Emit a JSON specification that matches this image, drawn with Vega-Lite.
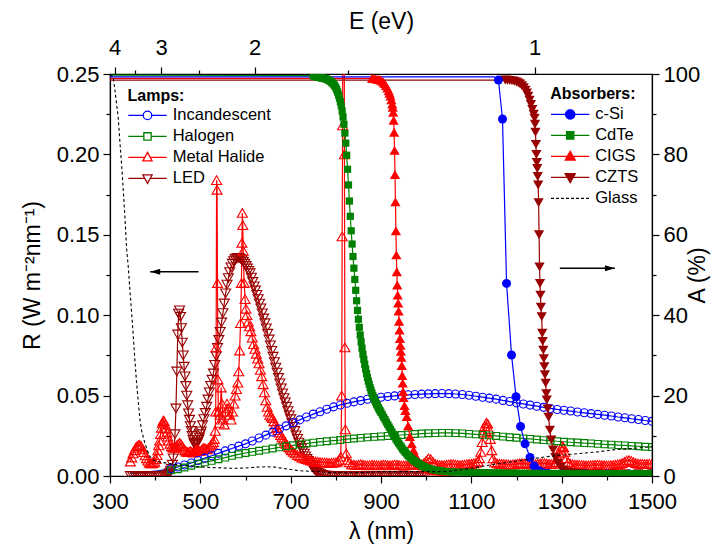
{
  "$schema": "https://vega.github.io/schema/vega-lite/v6.json",
  "width": 542,
  "height": 402,
  "autosize": {"type": "none"},
  "padding": {"left": 110, "top": 74, "right": 75, "bottom": 69},
  "background": "white",
  "config": {
    "view": {"stroke": "black", "strokeWidth": 1.2},
    "font": "Liberation Sans",
    "axis": {"labelFont": "Liberation Sans", "titleFont": "Liberation Sans", "labelFontSize": 22, "titleFontSize": 23, "titleFontWeight": "normal", "labelColor": "black", "titleColor": "black", "domainColor": "black", "tickColor": "black", "grid": false, "domainWidth": 1.2, "tickWidth": 1.2, "labelFlush": false, "labelOverlap": false},
    "legend": {"labelFont": "Liberation Sans", "titleFont": "Liberation Sans"}
  },
  "datasets": {
    "lamps": [
      {"s":"LED","x":345,"y":0},{"s":"LED","x":350,"y":0},{"s":"LED","x":355,"y":0},{"s":"LED","x":360,"y":0},{"s":"LED","x":365,"y":0},{"s":"LED","x":370,"y":0},{"s":"LED","x":375,"y":0},{"s":"LED","x":380,"y":0},{"s":"LED","x":385,"y":0},{"s":"LED","x":390,"y":0},{"s":"LED","x":395,"y":0},{"s":"LED","x":400,"y":0},{"s":"LED","x":405,"y":0},{"s":"LED","x":410,"y":0},{"s":"LED","x":415,"y":0},{"s":"LED","x":420,"y":0},{"s":"LED","x":425,"y":0},
      {"s":"LED","x":428,"y":0.0005},{"s":"LED","x":430,"y":0.001},{"s":"LED","x":432,"y":0.0018},{"s":"LED","x":434,"y":0.003},{"s":"LED","x":436,"y":0.0045},{"s":"LED","x":438,"y":0.007},{"s":"LED","x":440,"y":0.011},{"s":"LED","x":442,"y":0.017},{"s":"LED","x":444,"y":0.026},{"s":"LED","x":446,"y":0.042},{"s":"LED","x":448,"y":0.065},{"s":"LED","x":450,"y":0.088},{"s":"LED","x":452,"y":0.101},{"s":"LED","x":454,"y":0.103},{"s":"LED","x":456,"y":0.099},{"s":"LED","x":458,"y":0.092},{"s":"LED","x":460,"y":0.083},{"s":"LED","x":462,"y":0.075},{"s":"LED","x":464,"y":0.068},{"s":"LED","x":466,"y":0.062},{"s":"LED","x":468,"y":0.056},{"s":"LED","x":470,"y":0.05},{"s":"LED","x":472,"y":0.044},{"s":"LED","x":474,"y":0.039},{"s":"LED","x":476,"y":0.035},{"s":"LED","x":478,"y":0.031},{"s":"LED","x":480,"y":0.028},{"s":"LED","x":482,"y":0.025},{"s":"LED","x":484,"y":0.0225},{"s":"LED","x":486,"y":0.0205},{"s":"LED","x":488,"y":0.0195},{"s":"LED","x":490,"y":0.0195},{"s":"LED","x":492,"y":0.02},{"s":"LED","x":494,"y":0.021},{"s":"LED","x":496,"y":0.0225},{"s":"LED","x":498,"y":0.024},{"s":"LED","x":500,"y":0.026},
      {"s":"LED","x":502,"y":0.0278},{"s":"LED","x":505,"y":0.0316},{"s":"LED","x":508,"y":0.0354},{"s":"LED","x":511,"y":0.0392},{"s":"LED","x":514,"y":0.0431},{"s":"LED","x":517,"y":0.0476},{"s":"LED","x":520,"y":0.052},{"s":"LED","x":523,"y":0.0561},{"s":"LED","x":526,"y":0.0599},{"s":"LED","x":529,"y":0.0638},{"s":"LED","x":532,"y":0.0691},{"s":"LED","x":535,"y":0.0745},{"s":"LED","x":538,"y":0.0796},{"s":"LED","x":541,"y":0.0846},{"s":"LED","x":544,"y":0.0897},{"s":"LED","x":547,"y":0.0955},{"s":"LED","x":550,"y":0.1013},{"s":"LED","x":553,"y":0.1073},{"s":"LED","x":556,"y":0.1136},{"s":"LED","x":559,"y":0.119},{"s":"LED","x":562,"y":0.1231},{"s":"LED","x":565,"y":0.1268},{"s":"LED","x":568,"y":0.1298},{"s":"LED","x":571,"y":0.132},{"s":"LED","x":574,"y":0.1337},{"s":"LED","x":577,"y":0.1348},{"s":"LED","x":580,"y":0.1354},{"s":"LED","x":583,"y":0.1356},{"s":"LED","x":586,"y":0.1355},{"s":"LED","x":589,"y":0.1351},{"s":"LED","x":592,"y":0.1343},{"s":"LED","x":595,"y":0.1333},{"s":"LED","x":598,"y":0.132},{"s":"LED","x":601,"y":0.1306},{"s":"LED","x":604,"y":0.1291},{"s":"LED","x":607,"y":0.1276},{"s":"LED","x":610,"y":0.1261},{"s":"LED","x":613,"y":0.1234},{"s":"LED","x":616,"y":0.1207},{"s":"LED","x":619,"y":0.118},{"s":"LED","x":622,"y":0.1154},{"s":"LED","x":625,"y":0.1127},{"s":"LED","x":628,"y":0.11},{"s":"LED","x":631,"y":0.1072},{"s":"LED","x":634,"y":0.1043},{"s":"LED","x":637,"y":0.1012},{"s":"LED","x":640,"y":0.098},{"s":"LED","x":643,"y":0.095},{"s":"LED","x":646,"y":0.0918},{"s":"LED","x":649,"y":0.0885},{"s":"LED","x":652,"y":0.0849},{"s":"LED","x":655,"y":0.0813},{"s":"LED","x":658,"y":0.0778},{"s":"LED","x":661,"y":0.0742},{"s":"LED","x":664,"y":0.0708},{"s":"LED","x":667,"y":0.0674},{"s":"LED","x":670,"y":0.0643},{"s":"LED","x":673,"y":0.061},{"s":"LED","x":676,"y":0.0576},{"s":"LED","x":679,"y":0.0545},{"s":"LED","x":682,"y":0.0514},{"s":"LED","x":685,"y":0.0485},{"s":"LED","x":688,"y":0.0458},{"s":"LED","x":691,"y":0.0431},{"s":"LED","x":694,"y":0.0404},{"s":"LED","x":697,"y":0.0377},{"s":"LED","x":700,"y":0.0353},{"s":"LED","x":703,"y":0.0329},{"s":"LED","x":706,"y":0.0306},{"s":"LED","x":709,"y":0.028},{"s":"LED","x":712,"y":0.0253},{"s":"LED","x":715,"y":0.0231},{"s":"LED","x":718,"y":0.0208},{"s":"LED","x":721,"y":0.0188},{"s":"LED","x":724,"y":0.0172},{"s":"LED","x":727,"y":0.0156},{"s":"LED","x":730,"y":0.0139},{"s":"LED","x":733,"y":0.0122},{"s":"LED","x":736,"y":0.0106},{"s":"LED","x":739,"y":0.0094},{"s":"LED","x":742,"y":0.0082},{"s":"LED","x":745,"y":0.007},{"s":"LED","x":748,"y":0.0057},{"s":"LED","x":751,"y":0.0045},{"s":"LED","x":754,"y":0.0036},{"s":"LED","x":757,"y":0.0027},{"s":"LED","x":760,"y":0.0021},{"s":"LED","x":763,"y":0.0016},{"s":"LED","x":766,"y":0.0011},{"s":"LED","x":770,"y":0.0007},{"s":"LED","x":775,"y":0.0004},{"s":"LED","x":780,"y":0.0002},{"s":"LED","x":785,"y":0.0001},
      {"s":"LED","x":790,"y":0},{"s":"LED","x":795,"y":0},{"s":"LED","x":800,"y":0},{"s":"LED","x":805,"y":0},{"s":"LED","x":810,"y":0},{"s":"LED","x":815,"y":0},{"s":"LED","x":820,"y":0},{"s":"LED","x":825,"y":0},{"s":"LED","x":830,"y":0},{"s":"LED","x":835,"y":0},{"s":"LED","x":840,"y":0},{"s":"LED","x":845,"y":0},{"s":"LED","x":850,"y":0},{"s":"LED","x":855,"y":0},{"s":"LED","x":860,"y":0},{"s":"LED","x":865,"y":0},{"s":"LED","x":870,"y":0},{"s":"LED","x":875,"y":0},{"s":"LED","x":880,"y":0},{"s":"LED","x":885,"y":0},{"s":"LED","x":890,"y":0},{"s":"LED","x":895,"y":0},{"s":"LED","x":900,"y":0},{"s":"LED","x":905,"y":0},{"s":"LED","x":910,"y":0},{"s":"LED","x":915,"y":0},{"s":"LED","x":920,"y":0},{"s":"LED","x":925,"y":0},{"s":"LED","x":930,"y":0},{"s":"LED","x":935,"y":0},{"s":"LED","x":940,"y":0},{"s":"LED","x":945,"y":0},{"s":"LED","x":950,"y":0},{"s":"LED","x":955,"y":0},{"s":"LED","x":960,"y":0},{"s":"LED","x":965,"y":0},{"s":"LED","x":970,"y":0},{"s":"LED","x":975,"y":0},{"s":"LED","x":980,"y":0},{"s":"LED","x":985,"y":0},{"s":"LED","x":990,"y":0},{"s":"LED","x":995,"y":0},{"s":"LED","x":1000,"y":0},

      {"s":"Metal Halide","x":345,"y":0.009},{"s":"Metal Halide","x":348,"y":0.0115},{"s":"Metal Halide","x":351,"y":0.014},{"s":"Metal Halide","x":354,"y":0.016},{"s":"Metal Halide","x":357,"y":0.0176},{"s":"Metal Halide","x":360,"y":0.0186},{"s":"Metal Halide","x":363,"y":0.0192},{"s":"Metal Halide","x":366,"y":0.0193},{"s":"Metal Halide","x":369,"y":0.0185},{"s":"Metal Halide","x":372,"y":0.0168},{"s":"Metal Halide","x":375,"y":0.0148},{"s":"Metal Halide","x":378,"y":0.0128},{"s":"Metal Halide","x":381,"y":0.011},{"s":"Metal Halide","x":384,"y":0.0095},{"s":"Metal Halide","x":387,"y":0.0082},{"s":"Metal Halide","x":390,"y":0.0078},{"s":"Metal Halide","x":393,"y":0.0078},{"s":"Metal Halide","x":396,"y":0.0082},{"s":"Metal Halide","x":399,"y":0.0088},{"s":"Metal Halide","x":402,"y":0.0105},{"s":"Metal Halide","x":404,"y":0.013},{"s":"Metal Halide","x":406,"y":0.016},{"s":"Metal Halide","x":408,"y":0.019},{"s":"Metal Halide","x":410,"y":0.022},{"s":"Metal Halide","x":412,"y":0.026},{"s":"Metal Halide","x":414,"y":0.03},{"s":"Metal Halide","x":416,"y":0.033},{"s":"Metal Halide","x":418,"y":0.0345},{"s":"Metal Halide","x":420,"y":0.034},{"s":"Metal Halide","x":422,"y":0.032},{"s":"Metal Halide","x":424,"y":0.0295},{"s":"Metal Halide","x":426,"y":0.027},{"s":"Metal Halide","x":428,"y":0.0245},{"s":"Metal Halide","x":430,"y":0.022},{"s":"Metal Halide","x":433,"y":0.02},{"s":"Metal Halide","x":436,"y":0.0185},{"s":"Metal Halide","x":439,"y":0.0178},{"s":"Metal Halide","x":442,"y":0.0175},{"s":"Metal Halide","x":445,"y":0.018},{"s":"Metal Halide","x":448,"y":0.019},{"s":"Metal Halide","x":451,"y":0.02},{"s":"Metal Halide","x":454,"y":0.0205},{"s":"Metal Halide","x":457,"y":0.02},{"s":"Metal Halide","x":460,"y":0.0185},{"s":"Metal Halide","x":463,"y":0.017},{"s":"Metal Halide","x":466,"y":0.016},{"s":"Metal Halide","x":469,"y":0.0152},{"s":"Metal Halide","x":472,"y":0.0148},{"s":"Metal Halide","x":475,"y":0.015},{"s":"Metal Halide","x":478,"y":0.0155},{"s":"Metal Halide","x":481,"y":0.015},{"s":"Metal Halide","x":484,"y":0.0145},{"s":"Metal Halide","x":487,"y":0.015},{"s":"Metal Halide","x":490,"y":0.016},{"s":"Metal Halide","x":493,"y":0.0165},{"s":"Metal Halide","x":496,"y":0.016},{"s":"Metal Halide","x":499,"y":0.0155},{"s":"Metal Halide","x":502,"y":0.016},{"s":"Metal Halide","x":505,"y":0.017},{"s":"Metal Halide","x":508,"y":0.0175},{"s":"Metal Halide","x":511,"y":0.017},{"s":"Metal Halide","x":514,"y":0.0165},{"s":"Metal Halide","x":517,"y":0.017},{"s":"Metal Halide","x":520,"y":0.018},{"s":"Metal Halide","x":523,"y":0.019},{"s":"Metal Halide","x":526,"y":0.02},{"s":"Metal Halide","x":529,"y":0.021},{"s":"Metal Halide","x":531,"y":0.023},{"s":"Metal Halide","x":533,"y":0.028},{"s":"Metal Halide","x":534,"y":0.04},{"s":"Metal Halide","x":535,"y":0.08},{"s":"Metal Halide","x":536,"y":0.184},{"s":"Metal Halide","x":537,"y":0.178},{"s":"Metal Halide","x":538,"y":0.12},{"s":"Metal Halide","x":539,"y":0.06},{"s":"Metal Halide","x":540,"y":0.04},{"s":"Metal Halide","x":542,"y":0.033},{"s":"Metal Halide","x":544,"y":0.038},{"s":"Metal Halide","x":546,"y":0.055},{"s":"Metal Halide","x":548,"y":0.045},{"s":"Metal Halide","x":550,"y":0.035},{"s":"Metal Halide","x":553,"y":0.032},{"s":"Metal Halide","x":556,"y":0.04},{"s":"Metal Halide","x":559,"y":0.045},{"s":"Metal Halide","x":562,"y":0.042},{"s":"Metal Halide","x":565,"y":0.038},{"s":"Metal Halide","x":568,"y":0.035},{"s":"Metal Halide","x":571,"y":0.04},{"s":"Metal Halide","x":574,"y":0.045},{"s":"Metal Halide","x":577,"y":0.05},{"s":"Metal Halide","x":580,"y":0.054},{"s":"Metal Halide","x":583,"y":0.058},{"s":"Metal Halide","x":585,"y":0.065},{"s":"Metal Halide","x":587,"y":0.078},{"s":"Metal Halide","x":589,"y":0.095},{"s":"Metal Halide","x":591,"y":0.12},{"s":"Metal Halide","x":592,"y":0.145},{"s":"Metal Halide","x":593,"y":0.1636},{"s":"Metal Halide","x":594,"y":0.156},{"s":"Metal Halide","x":595,"y":0.14},{"s":"Metal Halide","x":597,"y":0.12},{"s":"Metal Halide","x":599,"y":0.11},{"s":"Metal Halide","x":601,"y":0.104},{"s":"Metal Halide","x":603,"y":0.1},{"s":"Metal Halide","x":606,"y":0.096},{"s":"Metal Halide","x":609,"y":0.093},{"s":"Metal Halide","x":612,"y":0.09},{"s":"Metal Halide","x":615,"y":0.086},{"s":"Metal Halide","x":618,"y":0.082},{"s":"Metal Halide","x":621,"y":0.079},{"s":"Metal Halide","x":624,"y":0.076},{"s":"Metal Halide","x":627,"y":0.073},{"s":"Metal Halide","x":630,"y":0.07},{"s":"Metal Halide","x":633,"y":0.066},{"s":"Metal Halide","x":636,"y":0.062},{"s":"Metal Halide","x":639,"y":0.057},{"s":"Metal Halide","x":642,"y":0.052},{"s":"Metal Halide","x":645,"y":0.047},{"s":"Metal Halide","x":648,"y":0.043},{"s":"Metal Halide","x":651,"y":0.04},{"s":"Metal Halide","x":654,"y":0.038},{"s":"Metal Halide","x":657,"y":0.037},{"s":"Metal Halide","x":660,"y":0.036},{"s":"Metal Halide","x":663,"y":0.034},{"s":"Metal Halide","x":666,"y":0.032},{"s":"Metal Halide","x":669,"y":0.03},{"s":"Metal Halide","x":672,"y":0.0285},{"s":"Metal Halide","x":675,"y":0.027},{"s":"Metal Halide","x":678,"y":0.0255},{"s":"Metal Halide","x":681,"y":0.024},{"s":"Metal Halide","x":684,"y":0.023},{"s":"Metal Halide","x":687,"y":0.0215},{"s":"Metal Halide","x":690,"y":0.02},{"s":"Metal Halide","x":693,"y":0.019},{"s":"Metal Halide","x":696,"y":0.018},{"s":"Metal Halide","x":699,"y":0.017},{"s":"Metal Halide","x":702,"y":0.016},{"s":"Metal Halide","x":706,"y":0.015},{"s":"Metal Halide","x":710,"y":0.014},{"s":"Metal Halide","x":715,"y":0.013},{"s":"Metal Halide","x":720,"y":0.0122},{"s":"Metal Halide","x":725,"y":0.0115},{"s":"Metal Halide","x":730,"y":0.011},{"s":"Metal Halide","x":735,"y":0.0105},{"s":"Metal Halide","x":740,"y":0.01},{"s":"Metal Halide","x":745,"y":0.0095},{"s":"Metal Halide","x":750,"y":0.0092},{"s":"Metal Halide","x":755,"y":0.009},{"s":"Metal Halide","x":760,"y":0.0088},{"s":"Metal Halide","x":765,"y":0.0086},{"s":"Metal Halide","x":770,"y":0.0085},{"s":"Metal Halide","x":775,"y":0.0084},{"s":"Metal Halide","x":780,"y":0.0083},{"s":"Metal Halide","x":785,"y":0.0082},{"s":"Metal Halide","x":790,"y":0.0082},{"s":"Metal Halide","x":795,"y":0.0083},{"s":"Metal Halide","x":800,"y":0.0085},{"s":"Metal Halide","x":804,"y":0.009},{"s":"Metal Halide","x":808,"y":0.01},{"s":"Metal Halide","x":811,"y":0.012},{"s":"Metal Halide","x":813,"y":0.05},{"s":"Metal Halide","x":814,"y":0.149},{"s":"Metal Halide","x":815,"y":0.218},{"s":"Metal Halide","x":816,"y":0.4},{"s":"Metal Halide","x":817,"y":0.45},{"s":"Metal Halide","x":818,"y":0.4},{"s":"Metal Halide","x":819,"y":0.2},{"s":"Metal Halide","x":820,"y":0.08},{"s":"Metal Halide","x":821,"y":0.029},{"s":"Metal Halide","x":823,"y":0.014},{"s":"Metal Halide","x":826,"y":0.01},{"s":"Metal Halide","x":830,"y":0.0085},
      {"s":"Metal Halide","x":835,"y":0.0072},{"s":"Metal Halide","x":840,"y":0.007},{"s":"Metal Halide","x":845,"y":0.0068},{"s":"Metal Halide","x":850,"y":0.007},{"s":"Metal Halide","x":855,"y":0.0073},{"s":"Metal Halide","x":860,"y":0.007},{"s":"Metal Halide","x":865,"y":0.0067},{"s":"Metal Halide","x":870,"y":0.0066},{"s":"Metal Halide","x":875,"y":0.0068},{"s":"Metal Halide","x":880,"y":0.007},{"s":"Metal Halide","x":885,"y":0.0069},{"s":"Metal Halide","x":890,"y":0.0067},{"s":"Metal Halide","x":895,"y":0.0066},{"s":"Metal Halide","x":900,"y":0.0068},{"s":"Metal Halide","x":905,"y":0.007},{"s":"Metal Halide","x":910,"y":0.0069},{"s":"Metal Halide","x":915,"y":0.0067},{"s":"Metal Halide","x":920,"y":0.0066},{"s":"Metal Halide","x":925,"y":0.0068},{"s":"Metal Halide","x":930,"y":0.0071},{"s":"Metal Halide","x":935,"y":0.007},{"s":"Metal Halide","x":940,"y":0.0068},{"s":"Metal Halide","x":945,"y":0.0066},{"s":"Metal Halide","x":950,"y":0.0065},{"s":"Metal Halide","x":955,"y":0.0066},{"s":"Metal Halide","x":960,"y":0.0068},{"s":"Metal Halide","x":965,"y":0.007},{"s":"Metal Halide","x":970,"y":0.0069},{"s":"Metal Halide","x":975,"y":0.0068},{"s":"Metal Halide","x":980,"y":0.0067},{"s":"Metal Halide","x":985,"y":0.0068},{"s":"Metal Halide","x":990,"y":0.0072},{"s":"Metal Halide","x":995,"y":0.008},{"s":"Metal Halide","x":1000,"y":0.0095},{"s":"Metal Halide","x":1005,"y":0.011},{"s":"Metal Halide","x":1010,"y":0.0105},{"s":"Metal Halide","x":1015,"y":0.0088},{"s":"Metal Halide","x":1020,"y":0.0075},{"s":"Metal Halide","x":1025,"y":0.007},{"s":"Metal Halide","x":1030,"y":0.0068},{"s":"Metal Halide","x":1035,"y":0.0067},{"s":"Metal Halide","x":1040,"y":0.0068},{"s":"Metal Halide","x":1045,"y":0.007},{"s":"Metal Halide","x":1050,"y":0.0072},{"s":"Metal Halide","x":1055,"y":0.0074},{"s":"Metal Halide","x":1060,"y":0.0073},{"s":"Metal Halide","x":1065,"y":0.0071},{"s":"Metal Halide","x":1070,"y":0.0069},{"s":"Metal Halide","x":1075,"y":0.0068},{"s":"Metal Halide","x":1080,"y":0.0069},{"s":"Metal Halide","x":1085,"y":0.0071},{"s":"Metal Halide","x":1090,"y":0.0073},{"s":"Metal Halide","x":1095,"y":0.0075},{"s":"Metal Halide","x":1100,"y":0.0076},{"s":"Metal Halide","x":1105,"y":0.0078},{"s":"Metal Halide","x":1110,"y":0.0082},{"s":"Metal Halide","x":1115,"y":0.009},{"s":"Metal Halide","x":1118,"y":0.011},{"s":"Metal Halide","x":1121,"y":0.015},{"s":"Metal Halide","x":1124,"y":0.021},{"s":"Metal Halide","x":1127,"y":0.027},{"s":"Metal Halide","x":1130,"y":0.031},{"s":"Metal Halide","x":1133,"y":0.033},{"s":"Metal Halide","x":1136,"y":0.0325},{"s":"Metal Halide","x":1139,"y":0.029},{"s":"Metal Halide","x":1142,"y":0.023},{"s":"Metal Halide","x":1145,"y":0.016},{"s":"Metal Halide","x":1148,"y":0.011},{"s":"Metal Halide","x":1152,"y":0.0085},{"s":"Metal Halide","x":1157,"y":0.0078},{"s":"Metal Halide","x":1162,"y":0.0076},{"s":"Metal Halide","x":1167,"y":0.0075},{"s":"Metal Halide","x":1172,"y":0.0074},{"s":"Metal Halide","x":1177,"y":0.0073},{"s":"Metal Halide","x":1182,"y":0.0072},{"s":"Metal Halide","x":1187,"y":0.0071},{"s":"Metal Halide","x":1192,"y":0.0072},{"s":"Metal Halide","x":1197,"y":0.0074},{"s":"Metal Halide","x":1202,"y":0.0076},{"s":"Metal Halide","x":1207,"y":0.0078},{"s":"Metal Halide","x":1212,"y":0.0079},{"s":"Metal Halide","x":1217,"y":0.0078},{"s":"Metal Halide","x":1222,"y":0.0076},{"s":"Metal Halide","x":1227,"y":0.0074},{"s":"Metal Halide","x":1232,"y":0.0073},{"s":"Metal Halide","x":1237,"y":0.0072},{"s":"Metal Halide","x":1242,"y":0.0073},{"s":"Metal Halide","x":1247,"y":0.0075},{"s":"Metal Halide","x":1252,"y":0.0078},{"s":"Metal Halide","x":1257,"y":0.008},{"s":"Metal Halide","x":1262,"y":0.0079},{"s":"Metal Halide","x":1267,"y":0.0077},{"s":"Metal Halide","x":1272,"y":0.0075},{"s":"Metal Halide","x":1277,"y":0.0074},{"s":"Metal Halide","x":1282,"y":0.0076},{"s":"Metal Halide","x":1287,"y":0.0085},{"s":"Metal Halide","x":1292,"y":0.011},{"s":"Metal Halide","x":1295,"y":0.014},{"s":"Metal Halide","x":1298,"y":0.017},{"s":"Metal Halide","x":1301,"y":0.0187},{"s":"Metal Halide","x":1304,"y":0.018},{"s":"Metal Halide","x":1307,"y":0.015},{"s":"Metal Halide","x":1310,"y":0.011},{"s":"Metal Halide","x":1314,"y":0.0085},{"s":"Metal Halide","x":1319,"y":0.0076},{"s":"Metal Halide","x":1324,"y":0.0073},{"s":"Metal Halide","x":1329,"y":0.0071},{"s":"Metal Halide","x":1334,"y":0.007},{"s":"Metal Halide","x":1339,"y":0.0069},{"s":"Metal Halide","x":1344,"y":0.0068},{"s":"Metal Halide","x":1349,"y":0.0067},{"s":"Metal Halide","x":1354,"y":0.0066},{"s":"Metal Halide","x":1359,"y":0.0066},{"s":"Metal Halide","x":1364,"y":0.0067},{"s":"Metal Halide","x":1369,"y":0.0068},{"s":"Metal Halide","x":1374,"y":0.0069},{"s":"Metal Halide","x":1379,"y":0.007},{"s":"Metal Halide","x":1384,"y":0.0069},{"s":"Metal Halide","x":1389,"y":0.0068},{"s":"Metal Halide","x":1394,"y":0.0067},{"s":"Metal Halide","x":1399,"y":0.0066},{"s":"Metal Halide","x":1404,"y":0.0066},{"s":"Metal Halide","x":1409,"y":0.0067},{"s":"Metal Halide","x":1414,"y":0.0068},{"s":"Metal Halide","x":1419,"y":0.007},{"s":"Metal Halide","x":1424,"y":0.0072},{"s":"Metal Halide","x":1429,"y":0.0075},{"s":"Metal Halide","x":1434,"y":0.008},{"s":"Metal Halide","x":1439,"y":0.0088},{"s":"Metal Halide","x":1444,"y":0.0096},{"s":"Metal Halide","x":1449,"y":0.0099},{"s":"Metal Halide","x":1454,"y":0.0094},{"s":"Metal Halide","x":1459,"y":0.0086},{"s":"Metal Halide","x":1464,"y":0.008},{"s":"Metal Halide","x":1469,"y":0.0077},{"s":"Metal Halide","x":1474,"y":0.0076},{"s":"Metal Halide","x":1479,"y":0.0075},{"s":"Metal Halide","x":1484,"y":0.0074},{"s":"Metal Halide","x":1489,"y":0.0075},{"s":"Metal Halide","x":1494,"y":0.0076},{"s":"Metal Halide","x":1500,"y":0.0076},

      {"s":"Incandescent","x":345,"y":0.0015},{"s":"Incandescent","x":360,"y":0.0018},{"s":"Incandescent","x":375,"y":0.0022},{"s":"Incandescent","x":390,"y":0.0027},{"s":"Incandescent","x":405,"y":0.0032},{"s":"Incandescent","x":420,"y":0.0038},{"s":"Incandescent","x":435,"y":0.0045},{"s":"Incandescent","x":450,"y":0.0056},{"s":"Incandescent","x":465,"y":0.0068},{"s":"Incandescent","x":480,"y":0.0081},{"s":"Incandescent","x":495,"y":0.0096},{"s":"Incandescent","x":510,"y":0.0111},{"s":"Incandescent","x":525,"y":0.0126},{"s":"Incandescent","x":540,"y":0.0141},{"s":"Incandescent","x":555,"y":0.0156},{"s":"Incandescent","x":570,"y":0.0171},{"s":"Incandescent","x":585,"y":0.0186},{"s":"Incandescent","x":600,"y":0.02},{"s":"Incandescent","x":615,"y":0.0218},{"s":"Incandescent","x":630,"y":0.0236},{"s":"Incandescent","x":645,"y":0.0254},{"s":"Incandescent","x":660,"y":0.0273},{"s":"Incandescent","x":675,"y":0.0292},{"s":"Incandescent","x":690,"y":0.0312},{"s":"Incandescent","x":705,"y":0.0331},{"s":"Incandescent","x":720,"y":0.0349},{"s":"Incandescent","x":735,"y":0.0367},{"s":"Incandescent","x":750,"y":0.0385},{"s":"Incandescent","x":765,"y":0.04},{"s":"Incandescent","x":780,"y":0.0415},{"s":"Incandescent","x":795,"y":0.043},{"s":"Incandescent","x":810,"y":0.0442},{"s":"Incandescent","x":825,"y":0.0452},{"s":"Incandescent","x":840,"y":0.0461},{"s":"Incandescent","x":855,"y":0.0469},{"s":"Incandescent","x":870,"y":0.0477},{"s":"Incandescent","x":885,"y":0.0484},{"s":"Incandescent","x":900,"y":0.049},{"s":"Incandescent","x":915,"y":0.0494},{"s":"Incandescent","x":930,"y":0.0498},{"s":"Incandescent","x":945,"y":0.0502},{"s":"Incandescent","x":960,"y":0.0505},{"s":"Incandescent","x":975,"y":0.0507},{"s":"Incandescent","x":990,"y":0.0509},{"s":"Incandescent","x":1005,"y":0.0511},{"s":"Incandescent","x":1020,"y":0.0512},{"s":"Incandescent","x":1035,"y":0.0513},{"s":"Incandescent","x":1050,"y":0.0512},{"s":"Incandescent","x":1065,"y":0.051},{"s":"Incandescent","x":1080,"y":0.0507},{"s":"Incandescent","x":1095,"y":0.0502},{"s":"Incandescent","x":1110,"y":0.0496},{"s":"Incandescent","x":1125,"y":0.049},{"s":"Incandescent","x":1140,"y":0.0484},{"s":"Incandescent","x":1155,"y":0.0478},{"s":"Incandescent","x":1170,"y":0.047},{"s":"Incandescent","x":1185,"y":0.0463},{"s":"Incandescent","x":1200,"y":0.0455},{"s":"Incandescent","x":1215,"y":0.0448},{"s":"Incandescent","x":1230,"y":0.0441},{"s":"Incandescent","x":1245,"y":0.0434},{"s":"Incandescent","x":1260,"y":0.0427},{"s":"Incandescent","x":1275,"y":0.042},{"s":"Incandescent","x":1290,"y":0.0414},{"s":"Incandescent","x":1305,"y":0.0409},{"s":"Incandescent","x":1320,"y":0.0404},{"s":"Incandescent","x":1335,"y":0.0398},{"s":"Incandescent","x":1350,"y":0.0393},{"s":"Incandescent","x":1365,"y":0.0388},{"s":"Incandescent","x":1380,"y":0.0383},{"s":"Incandescent","x":1395,"y":0.0378},{"s":"Incandescent","x":1410,"y":0.0373},{"s":"Incandescent","x":1425,"y":0.0367},{"s":"Incandescent","x":1440,"y":0.0362},{"s":"Incandescent","x":1455,"y":0.0356},{"s":"Incandescent","x":1470,"y":0.0351},{"s":"Incandescent","x":1485,"y":0.0345},{"s":"Incandescent","x":1500,"y":0.034},

      {"s":"Halogen","x":345,"y":0.002},{"s":"Halogen","x":360,"y":0.0022},{"s":"Halogen","x":375,"y":0.0024},{"s":"Halogen","x":390,"y":0.0026},{"s":"Halogen","x":405,"y":0.0029},{"s":"Halogen","x":420,"y":0.0032},{"s":"Halogen","x":435,"y":0.0035},{"s":"Halogen","x":450,"y":0.0042},{"s":"Halogen","x":465,"y":0.0053},{"s":"Halogen","x":480,"y":0.0064},{"s":"Halogen","x":495,"y":0.0076},{"s":"Halogen","x":510,"y":0.0085},{"s":"Halogen","x":525,"y":0.0094},{"s":"Halogen","x":540,"y":0.0104},{"s":"Halogen","x":555,"y":0.0114},{"s":"Halogen","x":570,"y":0.0125},{"s":"Halogen","x":585,"y":0.0135},{"s":"Halogen","x":600,"y":0.0143},{"s":"Halogen","x":615,"y":0.015},{"s":"Halogen","x":630,"y":0.0157},{"s":"Halogen","x":645,"y":0.0164},{"s":"Halogen","x":660,"y":0.0171},{"s":"Halogen","x":675,"y":0.0178},{"s":"Halogen","x":690,"y":0.0185},{"s":"Halogen","x":705,"y":0.0191},{"s":"Halogen","x":720,"y":0.0197},{"s":"Halogen","x":735,"y":0.0202},{"s":"Halogen","x":750,"y":0.0207},{"s":"Halogen","x":765,"y":0.0212},{"s":"Halogen","x":780,"y":0.0216},{"s":"Halogen","x":795,"y":0.022},{"s":"Halogen","x":810,"y":0.0224},{"s":"Halogen","x":825,"y":0.0229},{"s":"Halogen","x":840,"y":0.0233},{"s":"Halogen","x":855,"y":0.0237},{"s":"Halogen","x":870,"y":0.024},{"s":"Halogen","x":885,"y":0.0243},{"s":"Halogen","x":900,"y":0.0246},{"s":"Halogen","x":915,"y":0.0249},{"s":"Halogen","x":930,"y":0.0252},{"s":"Halogen","x":945,"y":0.0255},{"s":"Halogen","x":960,"y":0.0258},{"s":"Halogen","x":975,"y":0.0261},{"s":"Halogen","x":990,"y":0.0264},{"s":"Halogen","x":1005,"y":0.0266},{"s":"Halogen","x":1020,"y":0.0267},{"s":"Halogen","x":1035,"y":0.0268},{"s":"Halogen","x":1050,"y":0.0268},{"s":"Halogen","x":1065,"y":0.0267},{"s":"Halogen","x":1080,"y":0.0265},{"s":"Halogen","x":1095,"y":0.0262},{"s":"Halogen","x":1110,"y":0.0259},{"s":"Halogen","x":1125,"y":0.0256},{"s":"Halogen","x":1140,"y":0.0253},{"s":"Halogen","x":1155,"y":0.0249},{"s":"Halogen","x":1170,"y":0.0245},{"s":"Halogen","x":1185,"y":0.0241},{"s":"Halogen","x":1200,"y":0.0238},{"s":"Halogen","x":1215,"y":0.0234},{"s":"Halogen","x":1230,"y":0.0231},{"s":"Halogen","x":1245,"y":0.0227},{"s":"Halogen","x":1260,"y":0.0223},{"s":"Halogen","x":1275,"y":0.022},{"s":"Halogen","x":1290,"y":0.0216},{"s":"Halogen","x":1305,"y":0.0213},{"s":"Halogen","x":1320,"y":0.021},{"s":"Halogen","x":1335,"y":0.0208},{"s":"Halogen","x":1350,"y":0.0205},{"s":"Halogen","x":1365,"y":0.0203},{"s":"Halogen","x":1380,"y":0.02},{"s":"Halogen","x":1395,"y":0.0197},{"s":"Halogen","x":1410,"y":0.0195},{"s":"Halogen","x":1425,"y":0.0192},{"s":"Halogen","x":1440,"y":0.019},{"s":"Halogen","x":1455,"y":0.0187},{"s":"Halogen","x":1470,"y":0.0185},{"s":"Halogen","x":1485,"y":0.0182},{"s":"Halogen","x":1500,"y":0.018}
    ],
    "abs": [
      {"s":"CIGS","x":300,"y":98.9},{"s":"CIGS","x":880,"y":98.9},{"s":"CIGS","x":884,"y":98.85},{"s":"CIGS","x":888,"y":98.8},{"s":"CIGS","x":892,"y":98.7},{"s":"CIGS","x":896,"y":98.6},{"s":"CIGS","x":899,"y":98.5},{"s":"CIGS","x":902,"y":98.3},{"s":"CIGS","x":905,"y":98},{"s":"CIGS","x":908,"y":97.6},{"s":"CIGS","x":911,"y":97.1},{"s":"CIGS","x":914,"y":96.5},{"s":"CIGS","x":917,"y":95.8},{"s":"CIGS","x":919,"y":95.2},{"s":"CIGS","x":921,"y":94.5},{"s":"CIGS","x":923,"y":93.6},{"s":"CIGS","x":925,"y":92.5},{"s":"CIGS","x":926,"y":91.7},{"s":"CIGS","x":927,"y":90.5},{"s":"CIGS","x":928,"y":88.5},{"s":"CIGS","x":929,"y":85.5},{"s":"CIGS","x":930,"y":81},{"s":"CIGS","x":931,"y":75},{"s":"CIGS","x":932,"y":68.2},{"s":"CIGS","x":933,"y":61},{"s":"CIGS","x":934,"y":55},{"s":"CIGS","x":935,"y":50.8},{"s":"CIGS","x":936,"y":47.5},{"s":"CIGS","x":937,"y":45},{"s":"CIGS","x":938,"y":43},{"s":"CIGS","x":939,"y":41},{"s":"CIGS","x":940,"y":38.5},{"s":"CIGS","x":941,"y":36.3},{"s":"CIGS","x":942,"y":34.2},{"s":"CIGS","x":943,"y":32.5},{"s":"CIGS","x":944,"y":31},{"s":"CIGS","x":945,"y":29.5},{"s":"CIGS","x":946,"y":27.5},{"s":"CIGS","x":947,"y":25},{"s":"CIGS","x":948,"y":23.1},{"s":"CIGS","x":949,"y":21},{"s":"CIGS","x":950,"y":19.5},{"s":"CIGS","x":952,"y":17.5},{"s":"CIGS","x":954,"y":16.3},{"s":"CIGS","x":957,"y":14.8},{"s":"CIGS","x":960,"y":12.5},{"s":"CIGS","x":964,"y":9.8},{"s":"CIGS","x":968,"y":8},{"s":"CIGS","x":972,"y":6.4},{"s":"CIGS","x":976,"y":5.2},{"s":"CIGS","x":981,"y":4},{"s":"CIGS","x":986,"y":3.2},{"s":"CIGS","x":992,"y":2.5},{"s":"CIGS","x":998,"y":2},{"s":"CIGS","x":1004,"y":1.7},{"s":"CIGS","x":1010,"y":1.5},{"s":"CIGS","x":1020,"y":1.2},{"s":"CIGS","x":1035,"y":1},{"s":"CIGS","x":1050,"y":0.9},{"s":"CIGS","x":1100,"y":0.75},{"s":"CIGS","x":1200,"y":0.65},{"s":"CIGS","x":1300,"y":0.6},{"s":"CIGS","x":1400,"y":0.6},{"s":"CIGS","x":1500,"y":0.6},
      {"s":"CZTS","x":300,"y":98.5},{"s":"CZTS","x":1175,"y":98.5},{"s":"CZTS","x":1180,"y":98.45},{"s":"CZTS","x":1185,"y":98.4},{"s":"CZTS","x":1190,"y":98.3},{"s":"CZTS","x":1195,"y":98.2},{"s":"CZTS","x":1200,"y":98},{"s":"CZTS","x":1204,"y":97.8},{"s":"CZTS","x":1208,"y":97.5},{"s":"CZTS","x":1212,"y":97.1},{"s":"CZTS","x":1216,"y":96.6},{"s":"CZTS","x":1220,"y":96},{"s":"CZTS","x":1223,"y":95.3},{"s":"CZTS","x":1226,"y":94.5},{"s":"CZTS","x":1229,"y":93.5},{"s":"CZTS","x":1232,"y":92.4},{"s":"CZTS","x":1235,"y":91.2},{"s":"CZTS","x":1238,"y":90},{"s":"CZTS","x":1240,"y":89},{"s":"CZTS","x":1241,"y":87.5},{"s":"CZTS","x":1242,"y":85.5},{"s":"CZTS","x":1243,"y":82.5},{"s":"CZTS","x":1244,"y":80},{"s":"CZTS","x":1245,"y":78},{"s":"CZTS","x":1246,"y":76.5},{"s":"CZTS","x":1247,"y":74.5},{"s":"CZTS","x":1248,"y":72.4},{"s":"CZTS","x":1249,"y":68},{"s":"CZTS","x":1250,"y":60},{"s":"CZTS","x":1251,"y":52},{"s":"CZTS","x":1252,"y":47.9},{"s":"CZTS","x":1253,"y":45},{"s":"CZTS","x":1254,"y":42},{"s":"CZTS","x":1255.8,"y":39.6},{"s":"CZTS","x":1257,"y":35.5},{"s":"CZTS","x":1258,"y":33.5},{"s":"CZTS","x":1259.4,"y":31.3},{"s":"CZTS","x":1260.5,"y":29.2},{"s":"CZTS","x":1261.6,"y":27.2},{"s":"CZTS","x":1263,"y":25.2},{"s":"CZTS","x":1264.6,"y":23.1},{"s":"CZTS","x":1266,"y":20.5},{"s":"CZTS","x":1267,"y":18.9},{"s":"CZTS","x":1269,"y":16.7},{"s":"CZTS","x":1271,"y":14.6},{"s":"CZTS","x":1274,"y":11.4},{"s":"CZTS","x":1277,"y":9},{"s":"CZTS","x":1281,"y":6.5},{"s":"CZTS","x":1286,"y":4.6},{"s":"CZTS","x":1292,"y":3.2},{"s":"CZTS","x":1298,"y":2.2},{"s":"CZTS","x":1304,"y":1.5},{"s":"CZTS","x":1312,"y":1},{"s":"CZTS","x":1320,"y":0.8},{"s":"CZTS","x":1335,"y":0.7},{"s":"CZTS","x":1350,"y":0.65},{"s":"CZTS","x":1380,"y":0.6},{"s":"CZTS","x":1410,"y":0.6},{"s":"CZTS","x":1440,"y":0.6},{"s":"CZTS","x":1470,"y":0.6},{"s":"CZTS","x":1500,"y":0.6},
      {"s":"c-Si","x":300,"y":99.3},{"s":"c-Si","x":1150,"y":99.3},{"s":"c-Si","x":1160,"y":98.5},{"s":"c-Si","x":1169,"y":88.8},{"s":"c-Si","x":1178,"y":47.9},{"s":"c-Si","x":1189,"y":30.1},{"s":"c-Si","x":1199,"y":19.7},{"s":"c-Si","x":1209,"y":12.3},{"s":"c-Si","x":1219,"y":8},{"s":"c-Si","x":1230,"y":4.6},{"s":"c-Si","x":1239,"y":2.5},{"s":"c-Si","x":1250,"y":1.3},{"s":"c-Si","x":1260,"y":0.8},{"s":"c-Si","x":1270,"y":0.6},{"s":"c-Si","x":1300,"y":0.5},{"s":"c-Si","x":1350,"y":0.5},{"s":"c-Si","x":1400,"y":0.5},{"s":"c-Si","x":1450,"y":0.5},{"s":"c-Si","x":1500,"y":0.5},
      {"s":"CdTe","x":300,"y":99.7},{"s":"CdTe","x":750,"y":99.6},{"s":"CdTe","x":752,"y":99.5},{"s":"CdTe","x":754,"y":99.4},{"s":"CdTe","x":756,"y":99.35},{"s":"CdTe","x":758,"y":99.3},{"s":"CdTe","x":760,"y":99.25},{"s":"CdTe","x":762,"y":99.2},{"s":"CdTe","x":764,"y":99.15},{"s":"CdTe","x":766,"y":99.1},{"s":"CdTe","x":768,"y":99.05},{"s":"CdTe","x":770,"y":99},{"s":"CdTe","x":772,"y":98.95},{"s":"CdTe","x":774,"y":98.9},{"s":"CdTe","x":776,"y":98.85},{"s":"CdTe","x":778,"y":98.8},{"s":"CdTe","x":780,"y":98.7},{"s":"CdTe","x":782,"y":98.6},{"s":"CdTe","x":784,"y":98.5},{"s":"CdTe","x":786,"y":98.35},{"s":"CdTe","x":788,"y":98.2},{"s":"CdTe","x":790,"y":98},{"s":"CdTe","x":792,"y":97.8},{"s":"CdTe","x":794,"y":97.6},{"s":"CdTe","x":796,"y":97.3},{"s":"CdTe","x":798,"y":97},{"s":"CdTe","x":800,"y":96.6},{"s":"CdTe","x":802,"y":96.1},{"s":"CdTe","x":804,"y":95.5},{"s":"CdTe","x":806,"y":94.8},{"s":"CdTe","x":808,"y":94},{"s":"CdTe","x":810,"y":93.1},{"s":"CdTe","x":812,"y":92.1},{"s":"CdTe","x":814,"y":90.8},{"s":"CdTe","x":816,"y":89.3},{"s":"CdTe","x":818,"y":87.5},{"s":"CdTe","x":820,"y":85.3},{"s":"CdTe","x":822,"y":82.8},{"s":"CdTe","x":824,"y":79.8},{"s":"CdTe","x":826,"y":76.3},{"s":"CdTe","x":828,"y":72.4},{"s":"CdTe","x":830,"y":68.4},{"s":"CdTe","x":832,"y":64.6},{"s":"CdTe","x":834,"y":61},{"s":"CdTe","x":836,"y":57.7},{"s":"CdTe","x":838,"y":54.6},{"s":"CdTe","x":840,"y":51.7},{"s":"CdTe","x":842,"y":48.9},{"s":"CdTe","x":844,"y":46.2},{"s":"CdTe","x":846,"y":43.6},{"s":"CdTe","x":848,"y":41.2},{"s":"CdTe","x":850,"y":39},{"s":"CdTe","x":852,"y":37},{"s":"CdTe","x":854,"y":35.1},{"s":"CdTe","x":856,"y":33.4},{"s":"CdTe","x":858,"y":31.8},{"s":"CdTe","x":860,"y":30.3},{"s":"CdTe","x":862,"y":29},{"s":"CdTe","x":864,"y":27.8},{"s":"CdTe","x":866,"y":26.6},{"s":"CdTe","x":868,"y":25.5},{"s":"CdTe","x":870,"y":24.5},{"s":"CdTe","x":872,"y":23.6},{"s":"CdTe","x":874,"y":22.8},{"s":"CdTe","x":876,"y":22},{"s":"CdTe","x":878,"y":21.3},{"s":"CdTe","x":880,"y":20.6},{"s":"CdTe","x":882,"y":20},{"s":"CdTe","x":884,"y":19.4},{"s":"CdTe","x":886,"y":18.9},{"s":"CdTe","x":888,"y":18.4},{"s":"CdTe","x":890,"y":17.9},{"s":"CdTe","x":892,"y":17.5},{"s":"CdTe","x":894,"y":17},{"s":"CdTe","x":896,"y":16.6},{"s":"CdTe","x":898,"y":16.2},{"s":"CdTe","x":900,"y":15.8},{"s":"CdTe","x":903,"y":15.2},{"s":"CdTe","x":906,"y":14.6},{"s":"CdTe","x":909,"y":14},{"s":"CdTe","x":912,"y":13.4},{"s":"CdTe","x":915,"y":12.8},{"s":"CdTe","x":918,"y":12.2},{"s":"CdTe","x":921,"y":11.6},{"s":"CdTe","x":924,"y":11},{"s":"CdTe","x":927,"y":10.4},{"s":"CdTe","x":930,"y":9.8},{"s":"CdTe","x":933,"y":9.2},{"s":"CdTe","x":936,"y":8.7},{"s":"CdTe","x":939,"y":8.2},{"s":"CdTe","x":942,"y":7.7},{"s":"CdTe","x":945,"y":7.2},{"s":"CdTe","x":948,"y":6.7},{"s":"CdTe","x":951,"y":6.3},{"s":"CdTe","x":954,"y":5.9},{"s":"CdTe","x":957,"y":5.5},{"s":"CdTe","x":960,"y":5.1},{"s":"CdTe","x":963,"y":4.8},{"s":"CdTe","x":966,"y":4.5},{"s":"CdTe","x":969,"y":4.2},{"s":"CdTe","x":972,"y":3.9},{"s":"CdTe","x":975,"y":3.7},{"s":"CdTe","x":978,"y":3.4},{"s":"CdTe","x":981,"y":3.2},{"s":"CdTe","x":984,"y":3},{"s":"CdTe","x":987,"y":2.8},{"s":"CdTe","x":990,"y":2.6},{"s":"CdTe","x":993,"y":2.45},{"s":"CdTe","x":996,"y":2.3},{"s":"CdTe","x":999,"y":2.15},{"s":"CdTe","x":1005,"y":1.9},{"s":"CdTe","x":1010,"y":1.75},{"s":"CdTe","x":1015,"y":1.6},{"s":"CdTe","x":1020,"y":1.5},{"s":"CdTe","x":1025,"y":1.4},{"s":"CdTe","x":1030,"y":1.3},{"s":"CdTe","x":1035,"y":1.22},{"s":"CdTe","x":1040,"y":1.15},{"s":"CdTe","x":1045,"y":1.1},{"s":"CdTe","x":1050,"y":1.05},{"s":"CdTe","x":1060,"y":1},{"s":"CdTe","x":1070,"y":0.97},{"s":"CdTe","x":1080,"y":0.94},{"s":"CdTe","x":1090,"y":0.92},{"s":"CdTe","x":1100,"y":0.9},{"s":"CdTe","x":1110,"y":0.88},{"s":"CdTe","x":1120,"y":0.86},{"s":"CdTe","x":1130,"y":0.84},{"s":"CdTe","x":1140,"y":0.82},{"s":"CdTe","x":1150,"y":0.8},{"s":"CdTe","x":1160,"y":0.78},{"s":"CdTe","x":1170,"y":0.76},{"s":"CdTe","x":1180,"y":0.74},{"s":"CdTe","x":1190,"y":0.72},{"s":"CdTe","x":1200,"y":0.7},{"s":"CdTe","x":1210,"y":0.69},{"s":"CdTe","x":1220,"y":0.68},{"s":"CdTe","x":1230,"y":0.67},{"s":"CdTe","x":1240,"y":0.66},{"s":"CdTe","x":1250,"y":0.65},{"s":"CdTe","x":1260,"y":0.65},{"s":"CdTe","x":1270,"y":0.64},{"s":"CdTe","x":1280,"y":0.64},{"s":"CdTe","x":1290,"y":0.63},{"s":"CdTe","x":1300,"y":0.63},{"s":"CdTe","x":1310,"y":0.62},{"s":"CdTe","x":1320,"y":0.62},{"s":"CdTe","x":1330,"y":0.62},{"s":"CdTe","x":1340,"y":0.61},{"s":"CdTe","x":1350,"y":0.61},{"s":"CdTe","x":1360,"y":0.61},{"s":"CdTe","x":1370,"y":0.6},{"s":"CdTe","x":1380,"y":0.6},{"s":"CdTe","x":1390,"y":0.6},{"s":"CdTe","x":1400,"y":0.6},{"s":"CdTe","x":1410,"y":0.6},{"s":"CdTe","x":1420,"y":0.6},{"s":"CdTe","x":1430,"y":0.6},{"s":"CdTe","x":1440,"y":0.6},{"s":"CdTe","x":1450,"y":0.6},{"s":"CdTe","x":1460,"y":0.6},{"s":"CdTe","x":1470,"y":0.6},{"s":"CdTe","x":1480,"y":0.6},{"s":"CdTe","x":1490,"y":0.6},{"s":"CdTe","x":1500,"y":0.6}
    ],
    "glass": [
      {"s":"Glass","x":300,"y":99.8},{"s":"Glass","x":303,"y":99.6},{"s":"Glass","x":307,"y":99.3},{"s":"Glass","x":312,"y":95},{"s":"Glass","x":318,"y":89.4},{"s":"Glass","x":322,"y":83},{"s":"Glass","x":326,"y":77},{"s":"Glass","x":330,"y":70},{"s":"Glass","x":333,"y":64.5},{"s":"Glass","x":337,"y":56.2},{"s":"Glass","x":340.5,"y":52},{"s":"Glass","x":344,"y":46.3},{"s":"Glass","x":348,"y":40.5},{"s":"Glass","x":351.6,"y":34.7},{"s":"Glass","x":355,"y":29},{"s":"Glass","x":359,"y":23},{"s":"Glass","x":363,"y":18},{"s":"Glass","x":366.4,"y":13.9},{"s":"Glass","x":370,"y":11.3},{"s":"Glass","x":374,"y":9.5},{"s":"Glass","x":377.5,"y":8.1},{"s":"Glass","x":383,"y":6.2},{"s":"Glass","x":388.6,"y":4.8},{"s":"Glass","x":395,"y":4},{"s":"Glass","x":405,"y":3.6},{"s":"Glass","x":425,"y":3.2},{"s":"Glass","x":450,"y":2.8},{"s":"Glass","x":475,"y":2.5},{"s":"Glass","x":499,"y":2.3},{"s":"Glass","x":525,"y":2.1},{"s":"Glass","x":550,"y":2},{"s":"Glass","x":573,"y":1.9},{"s":"Glass","x":600,"y":2},{"s":"Glass","x":625,"y":2.2},{"s":"Glass","x":647,"y":2.3},{"s":"Glass","x":665,"y":2.2},{"s":"Glass","x":684,"y":1.9},{"s":"Glass","x":700,"y":1.6},{"s":"Glass","x":720,"y":1.3},{"s":"Glass","x":757,"y":1.1},{"s":"Glass","x":794,"y":0.8},{"s":"Glass","x":830,"y":0.8},{"s":"Glass","x":860,"y":0.9},{"s":"Glass","x":898,"y":1.1},{"s":"Glass","x":950,"y":1.1},{"s":"Glass","x":1000,"y":1.1},{"s":"Glass","x":1045,"y":1.1},{"s":"Glass","x":1080,"y":1.6},{"s":"Glass","x":1119,"y":2.3},{"s":"Glass","x":1150,"y":2.9},{"s":"Glass","x":1193,"y":3.6},{"s":"Glass","x":1230,"y":4.2},{"s":"Glass","x":1267,"y":4.8},{"s":"Glass","x":1300,"y":5.2},{"s":"Glass","x":1340,"y":5.6},{"s":"Glass","x":1380,"y":6},{"s":"Glass","x":1414,"y":6.5},{"s":"Glass","x":1460,"y":6.9},{"s":"Glass","x":1500,"y":7.3}
    ],
    "arrowL": [{"x":389,"x2":496,"y":0.127}],
    "arrowR": [{"x":1296,"x2":1418,"y":51.7}]
  },
  "layer": [
    {
      "layer": [
        {
          "data": {"name": "lamps"},
          "transform": [{"filter": "false"}],
          "mark": {"type": "point", "filled": false, "strokeWidth": 1.3, "opacity": 1, "clip": true},
          "encoding": {
            "x": {"field": "x", "type": "quantitative", "scale": {"domain": [300, 1500], "nice": false, "zero": false}, "axis": {"orient": "bottom", "values": [400,600,800,1000,1200,1400], "labels": false, "domain": false, "tickSize": 4, "title": null}},
            "y": {"field": "y", "type": "quantitative", "scale": {"domain": [0, 0.25], "nice": false, "zero": false}, "axis": {"orient": "left", "values": [0.025,0.075,0.125,0.175,0.225], "labels": false, "domain": false, "tickSize": 4, "title": null}},
            "color": {"field": "s", "type": "nominal", "scale": {"domain": ["Incandescent","Halogen","Metal Halide","LED"], "range": ["#0000ff","#008000","#ff0000","#990000"]},
              "legend": {
                "orient": "none", "legendX": 17.5, "legendY": 14, "direction": "vertical",
                "title": "\u00a0\u00a0\u00a0\u00a0\u00a0Lamps:", "titleFontSize": 16, "titleFontWeight": "bold", "titleColor": "black", "titlePadding": 1,
                "labelFontSize": 16.5, "labelColor": "black", "labelOffset": 5.2,
                "symbolSize": 1475, "symbolStrokeWidth": 1.3, "symbolOpacity": 1, "clipHeight": 20.8, "rowPadding": 0, "padding": 0, "symbolOffset": 0
              }
            },
            "shape": {"field": "s", "type": "nominal", "scale": {"domain": ["Incandescent","Halogen","Metal Halide","LED"], "range": [
              "M-1,0H-0.22M0.22,0H1M0.22,0A0.22,0.22,0,1,1,-0.22,0A0.22,0.22,0,1,1,0.22,0Z",
              "M-1,0H-0.19M0.19,0H1M-0.19,-0.19H0.19V0.19H-0.19Z",
              "M-1,0H-0.14M0.14,0H1M0,-0.26L0.24,0.18L-0.24,0.18Z",
              "M-1,0H-0.14M0.14,0H1M0,0.26L0.24,-0.18L-0.24,-0.18Z"
            ]}}
          }
        },
        {
          "data": {"name": "lamps"},
          "mark": {"type": "line", "strokeWidth": 1.2, "clip": true},
          "encoding": {
            "x": {"field": "x", "type": "quantitative",
              "axis": {"orient": "bottom", "values": [300,500,700,900,1100,1300,1500], "format": "d", "tickSize": 7, "labelPadding": 8, "title": "λ (nm)", "titlePadding": 8}},
            "y": {"field": "y", "type": "quantitative",
              "axis": {"orient": "left", "values": [0,0.05,0.1,0.15,0.2,0.25], "format": ".2f", "tickSize": 7, "labelPadding": 4, "title": "R (W m⁻²nm⁻¹)", "titlePadding": 12}},
            "color": {"field": "s", "type": "nominal"}
          }
        },
        {
          "data": {"name": "lamps"},
          "transform": [{"filter": "datum.s === 'LED'"}],
          "mark": {"type": "point", "shape": "triangle-down", "size": 100, "filled": false, "strokeWidth": 1.1, "opacity": 1, "color": "#990000", "clip": true},
          "encoding": {"x": {"field": "x", "type": "quantitative", "axis": null}, "y": {"field": "y", "type": "quantitative", "axis": null}}
        },
        {
          "data": {"name": "lamps"},
          "transform": [{"filter": "datum.s === 'Metal Halide'"}],
          "mark": {"type": "point", "shape": "triangle-up", "size": 100, "filled": false, "strokeWidth": 1.1, "opacity": 1, "color": "#ff0000", "clip": true},
          "encoding": {"x": {"field": "x", "type": "quantitative", "axis": null}, "y": {"field": "y", "type": "quantitative", "axis": null}}
        },
        {
          "data": {"name": "lamps"},
          "transform": [{"filter": "datum.s === 'Incandescent' && datum.x >= 435"}],
          "mark": {"type": "point", "shape": "circle", "size": 64, "filled": false, "strokeWidth": 1.1, "opacity": 1, "color": "#0000ff", "clip": true},
          "encoding": {"x": {"field": "x", "type": "quantitative", "axis": null}, "y": {"field": "y", "type": "quantitative", "axis": null}}
        },
        {
          "data": {"name": "lamps"},
          "transform": [{"filter": "datum.s === 'Halogen' && datum.x >= 435"}],
          "mark": {"type": "point", "shape": "square", "size": 46, "filled": false, "strokeWidth": 1.1, "opacity": 1, "color": "#008000", "clip": true},
          "encoding": {"x": {"field": "x", "type": "quantitative", "axis": null}, "y": {"field": "y", "type": "quantitative", "axis": null}}
        },
        {
          "data": {"name": "arrowL"},
          "mark": {"type": "rule", "color": "black", "strokeWidth": 1.5},
          "encoding": {"x": {"field": "x", "type": "quantitative", "axis": null}, "x2": {"field": "x2"}, "y": {"field": "y", "type": "quantitative", "axis": null}}
        },
        {
          "data": {"name": "arrowL"},
          "mark": {"type": "point", "shape": "M0,0L2,-0.6L2,0.6Z", "size": 100, "filled": true, "color": "black", "opacity": 1},
          "encoding": {"x": {"field": "x", "type": "quantitative", "axis": null}, "y": {"field": "y", "type": "quantitative", "axis": null}}
        }
      ],
      "resolve": {"axis": {"x": "independent", "y": "independent"}}
    },
    {
      "layer": [
        {
          "data": {"name": "abs"},
          "transform": [{"filter": "false"}],
          "mark": {"type": "point", "filled": false, "strokeWidth": 1.3, "opacity": 1, "clip": true},
          "encoding": {
            "x": {"field": "x", "type": "quantitative", "scale": {"domain": [300, 1500], "nice": false, "zero": false}, "axis": {"orient": "top", "values": [354.2857, 496, 826.6667], "labels": false, "domain": false, "tickSize": 4, "title": null}},
            "y": {"field": "y", "type": "quantitative", "scale": {"domain": [0, 100], "nice": false, "zero": false}, "axis": {"orient": "right", "values": [10,30,50,70,90], "labels": false, "domain": false, "tickSize": 4, "title": null}},
            "color": {"field": "s", "type": "nominal", "scale": {"domain": ["c-Si","CdTe","CIGS","CZTS","Glass"], "range": ["#0000ff","#008000","#ff0000","#990000","#000000"]},
              "legend": {
                "orient": "none", "legendX": 440.2, "legendY": 12, "direction": "vertical",
                "title": "Absorbers:", "titleFontSize": 16, "titleFontWeight": "bold", "titleColor": "black", "titlePadding": 2,
                "labelFontSize": 16.5, "labelColor": "black", "labelOffset": 5,
                "symbolSize": 1475, "symbolStrokeWidth": 1.3, "symbolOpacity": 1, "clipHeight": 20.8, "rowPadding": 0, "padding": 0, "symbolOffset": 0
              }
            },
            "fill": {"field": "s", "type": "nominal", "scale": {"domain": ["c-Si","CdTe","CIGS","CZTS","Glass"], "range": ["#0000ff","#008000","#ff0000","#990000","transparent"]}},
            "shape": {"field": "s", "type": "nominal", "scale": {"domain": ["c-Si","CdTe","CIGS","CZTS","Glass"], "range": [
              "M-1,0H1M0.24,0A0.24,0.24,0,1,1,-0.24,0A0.24,0.24,0,1,1,0.24,0Z",
              "M-1,0H1M-0.19,-0.19H0.19V0.19H-0.19Z",
              "M-1,0H1M0,-0.27L0.26,0.19L-0.26,0.19Z",
              "M-1,0H1M0,0.27L0.26,-0.19L-0.26,-0.19Z",
              "M-1,0H1"
            ]}},
            "strokeDash": {"field": "s", "type": "nominal", "scale": {"domain": ["c-Si","CdTe","CIGS","CZTS","Glass"], "range": [[1,0],[1,0],[1,0],[1,0],[3,2]]}}
          }
        },
        {
          "data": {"name": "abs"},
          "mark": {"type": "line", "strokeWidth": 1.2, "clip": true},
          "encoding": {
            "x": {"field": "x", "type": "quantitative",
              "axis": {"orient": "top", "values": [310, 413.3333, 620, 1240], "labelExpr": "format(round(1240/datum.value), 'd')", "tickSize": 7, "labelPadding": 8, "title": "E (eV)", "titlePadding": 3}},
            "y": {"field": "y", "type": "quantitative",
              "axis": {"orient": "right", "values": [0,20,40,60,80,100], "format": "d", "tickSize": 7, "labelPadding": 4, "title": "A (%)", "titleAngle": -90, "titlePadding": 10}},
            "color": {"field": "s", "type": "nominal"}
          }
        },
        {
          "data": {"name": "abs"},
          "transform": [{"filter": "datum.s === 'CIGS' && datum.x >= 880"}],
          "mark": {"type": "point", "shape": "triangle-up", "size": 105, "filled": true, "opacity": 1, "color": "#ff0000", "clip": true},
          "encoding": {"x": {"field": "x", "type": "quantitative", "axis": null}, "y": {"field": "y", "type": "quantitative", "axis": null}}
        },
        {
          "data": {"name": "abs"},
          "transform": [{"filter": "datum.s === 'CZTS' && datum.x >= 1175"}],
          "mark": {"type": "point", "shape": "triangle-down", "size": 105, "filled": true, "opacity": 1, "color": "#990000", "clip": true},
          "encoding": {"x": {"field": "x", "type": "quantitative", "axis": null}, "y": {"field": "y", "type": "quantitative", "axis": null}}
        },
        {
          "data": {"name": "abs"},
          "transform": [{"filter": "datum.s === 'c-Si' && datum.x >= 1155"}],
          "mark": {"type": "point", "shape": "circle", "size": 81, "filled": true, "opacity": 1, "color": "#0000ff", "clip": true},
          "encoding": {"x": {"field": "x", "type": "quantitative", "axis": null}, "y": {"field": "y", "type": "quantitative", "axis": null}}
        },
        {
          "data": {"name": "abs"},
          "transform": [{"filter": "datum.s === 'CdTe' && datum.x >= 750"}],
          "mark": {"type": "point", "shape": "square", "size": 52, "filled": true, "opacity": 1, "color": "#008000", "clip": true},
          "encoding": {"x": {"field": "x", "type": "quantitative", "axis": null}, "y": {"field": "y", "type": "quantitative", "axis": null}}
        },
        {
          "data": {"name": "glass"},
          "mark": {"type": "line", "color": "black", "strokeWidth": 1.1, "strokeDash": [3, 2.5], "clip": true},
          "encoding": {"x": {"field": "x", "type": "quantitative", "axis": null}, "y": {"field": "y", "type": "quantitative", "axis": null}}
        },
        {
          "data": {"name": "arrowR"},
          "mark": {"type": "rule", "color": "black", "strokeWidth": 1.5},
          "encoding": {"x": {"field": "x", "type": "quantitative", "axis": null}, "x2": {"field": "x2"}, "y": {"field": "y", "type": "quantitative", "axis": null}}
        },
        {
          "data": {"name": "arrowR"},
          "mark": {"type": "point", "shape": "M0,0L-2,-0.6L-2,0.6Z", "size": 100, "filled": true, "color": "black", "opacity": 1},
          "encoding": {"x": {"field": "x2", "type": "quantitative", "axis": null}, "y": {"field": "y", "type": "quantitative", "axis": null}}
        }
      ],
      "resolve": {"axis": {"x": "independent", "y": "independent"}}
    }
  ],
  "resolve": {"scale": {"y": "independent", "color": "independent", "shape": "independent", "fill": "independent", "strokeDash": "independent"}, "axis": {"x": "independent"}}
}
